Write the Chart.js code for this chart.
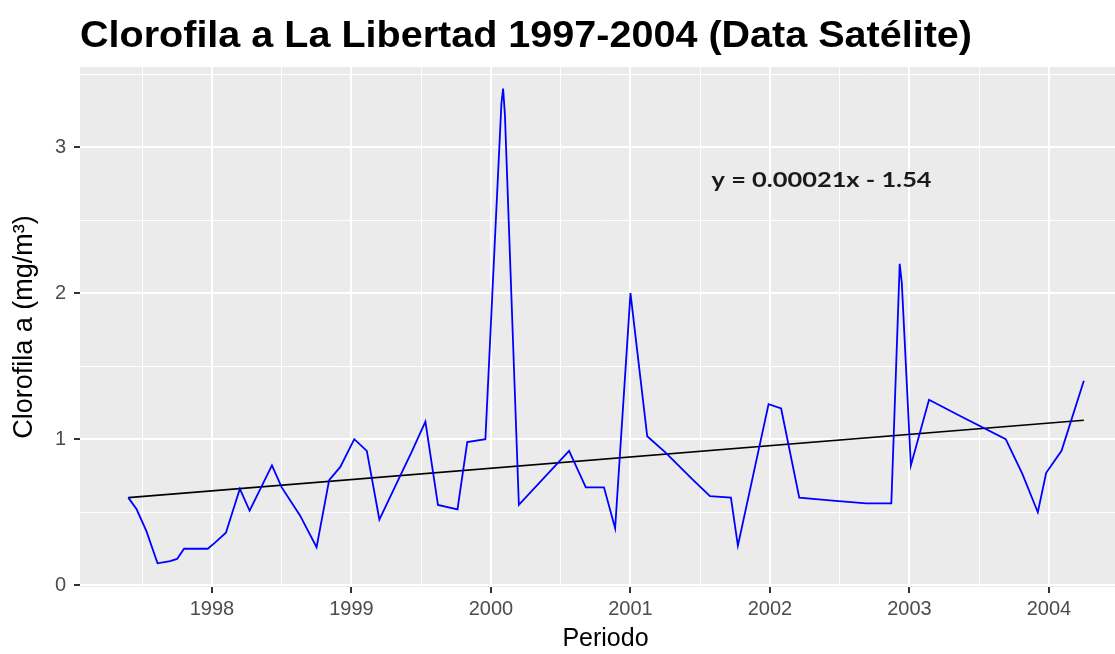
<!DOCTYPE html>
<html>
<head>
<meta charset="utf-8">
<script src="https://cdn.jsdelivr.net/npm/chart.js@4.4.1/dist/chart.umd.min.js"></script>
<style>
  html, body { margin: 0; background: #fff; overflow: hidden; }
  /* el panel original sigue 16px más allá del borde derecho: se recorta */
  #wrap { width: 1115px; height: 654px; overflow: hidden; }
</style>
</head>
<body>
<div id="wrap"><canvas id="chart" width="1131" height="654"></canvas></div>
<script>
// fecha en años decimales
const periodo = [
  1997.40, 1997.46, 1997.53, 1997.61, 1997.70, 1997.75, 1997.80, 1997.97, 1998.02, 1998.10,
  1998.20, 1998.27, 1998.43, 1998.50, 1998.63, 1998.75, 1998.84, 1998.92, 1999.02, 1999.11,
  1999.20, 1999.35, 1999.43, 1999.53, 1999.62, 1999.76, 1999.83, 1999.96, 2000.075, 2000.087,
  2000.10, 2000.20, 2000.56, 2000.68, 2000.81, 2000.89, 2001.00, 2001.12, 2001.25, 2001.45,
  2001.57, 2001.72, 2001.77, 2001.99, 2002.08, 2002.21, 2002.45, 2002.69, 2002.87, 2002.93,
  2002.945, 2003.01, 2003.14, 2003.36, 2003.69, 2003.81, 2003.92, 2003.98, 2004.09, 2004.25
];
const clorofila = [
  0.60, 0.52, 0.37, 0.15, 0.165, 0.18, 0.25, 0.25, 0.29, 0.36,
  0.66, 0.51, 0.82, 0.67, 0.48, 0.26, 0.72, 0.81, 1.00, 0.92,
  0.45, 0.75, 0.91, 1.12, 0.55, 0.52, 0.98, 1.00, 3.30, 3.40,
  3.22, 0.55, 0.92, 0.67, 0.67, 0.39, 2.00, 1.02, 0.91, 0.72,
  0.61, 0.60, 0.27, 1.24, 1.21, 0.60, 0.58, 0.56, 0.56, 2.20,
  2.07, 0.82, 1.27, 1.16, 1.00, 0.76, 0.50, 0.77, 0.92, 1.40
];
// recta de tendencia (lm)
const tendX = [1997.40, 2004.25];
const tendY = [0.60, 1.13];

const xGrid = [1997.5, 1998, 1998.5, 1999, 1999.5, 2000, 2000.5, 2001, 2001.5, 2002, 2002.5, 2003, 2003.5, 2004, 2004.5];
const yGrid = [0, 0.5, 1, 1.5, 2, 2.5, 3, 3.5];

const TITULO = 'Clorofila a La Libertad 1997-2004 (Data Satélite)';
const ECUACION = 'y = 0.00021x - 1.54';
const ECU_POS = { x: 2002.37, y: 2.77 };

const isMajor = (v) => Number.isInteger(v);
const SANS = '"Liberation Sans", Arial, sans-serif';

const panelBg = {
  id: 'panelBg',
  beforeDraw: (chart) => {
    const { ctx, chartArea: a } = chart;
    ctx.save();
    ctx.fillStyle = '#EBEBEB';
    ctx.fillRect(a.left, a.top, a.right - a.left, a.bottom - a.top);
    ctx.restore();
  },
};

// texto ajustado a un ancho dado
const fitText = (ctx, txt, x, y, width) => {
  const w = ctx.measureText(txt).width;
  ctx.save();
  ctx.translate(x, y);
  ctx.scale(width / w, 1);
  ctx.fillText(txt, 0, 0);
  ctx.restore();
};

const textos = {
  id: 'textos',
  afterDraw: (chart) => {
    const ctx = chart.ctx;
    ctx.save();
    ctx.fillStyle = '#000';
    ctx.font = 'bold 36px ' + SANS;
    ctx.textAlign = 'left';
    ctx.textBaseline = 'alphabetic';
    fitText(ctx, TITULO, 80, 47, 892);

    const x = chart.scales.x.getPixelForValue(ECU_POS.x);
    const y = chart.scales.y.getPixelForValue(ECU_POS.y);
    ctx.font = 'bold 21px Lato, "Open Sans", sans-serif';
    ctx.fillStyle = '#1a1a1a';
    ctx.textAlign = 'center';
    ctx.textBaseline = 'middle';
    fitText(ctx, ECUACION, x, y, 220);
    ctx.restore();
  },
};

const gridOpts = {
  color: '#FFFFFF',
  lineWidth: (c) => (isMajor(c.tick.value) ? 2 : 1),
  tickColor: (c) => (isMajor(c.tick.value) ? '#333333' : 'rgba(0,0,0,0)'),
  tickLength: 6,
  drawTicks: true,
};

new Chart(document.getElementById('chart'), {
  type: 'line',
  data: {
    datasets: [
      {
        label: 'Clorofila',
        data: periodo.map((p, i) => ({ x: p, y: clorofila[i] })),
        borderColor: '#0000FF',
        borderWidth: 1.8,
        pointRadius: 0,
        tension: 0,
      },
      {
        label: 'Tendencia',
        data: tendX.map((p, i) => ({ x: p, y: tendY[i] })),
        borderColor: '#000000',
        borderWidth: 1.6,
        pointRadius: 0,
      },
    ],
  },
  plugins: [panelBg, textos],
  options: {
    responsive: false,
    animation: false,
    layout: { padding: { top: 67, right: 0, left: 0, bottom: 0 } },
    plugins: {
      legend: { display: false },
      tooltip: { enabled: false },
    },
    scales: {
      x: {
        type: 'linear',
        min: 1997.054,
        max: 2004.588,
        afterBuildTicks: (s) => { s.ticks = xGrid.map((v) => ({ value: v })); },
        afterFit: (s) => { s.height = 67; },
        border: { display: false },
        grid: gridOpts,
        ticks: {
          autoSkip: false,
          maxRotation: 0,
          padding: 4,
          color: '#4D4D4D',
          font: { family: SANS, size: 20 },
          callback: (v) => (isMajor(v) ? String(v) : ''),
        },
        title: {
          display: true,
          text: 'Periodo',
          color: '#000',
          font: { family: SANS, size: 25 },
          padding: { top: 0, bottom: 0 },
        },
      },
      y: {
        type: 'linear',
        min: -0.012,
        max: 3.548,
        afterBuildTicks: (s) => { s.ticks = yGrid.map((v) => ({ value: v })); },
        afterFit: (s) => { s.width = 80; },
        border: { display: false },
        grid: gridOpts,
        ticks: {
          padding: 8,
          color: '#4D4D4D',
          font: { family: SANS, size: 20 },
          callback: (v) => (isMajor(v) ? String(v) : ''),
        },
        title: {
          display: true,
          text: 'Clorofila a (mg/m³)',
          color: '#000',
          font: { family: SANS, size: 27 },
          padding: { top: 8, bottom: 0 },
        },
      },
    },
  },
});
</script>
</body>
</html>
